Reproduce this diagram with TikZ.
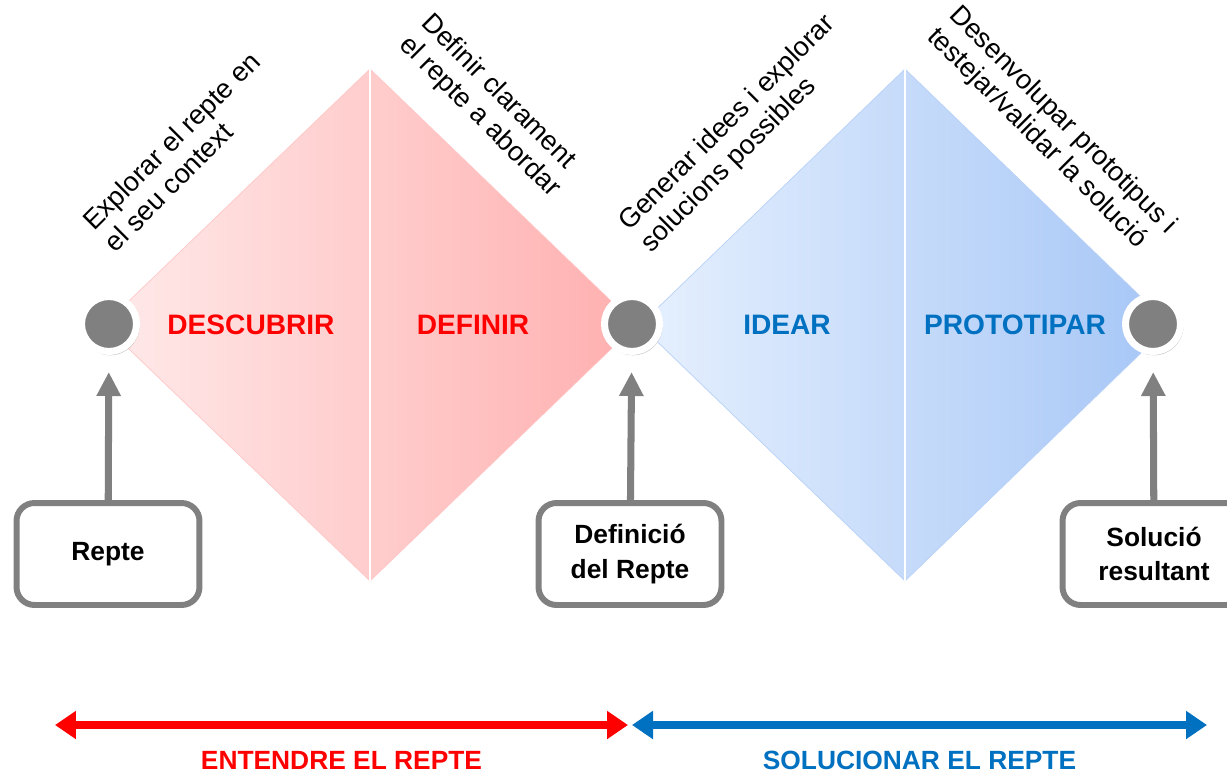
\documentclass[tikz,border=0pt]{standalone}
\usepackage{fontspec}
\setmainfont{Liberation Sans}
\usetikzlibrary{arrows.meta,shadows,positioning}
\definecolor{redA}{HTML}{FF0000}
\definecolor{blueA}{HTML}{0070C0}
\definecolor{grayA}{HTML}{808080}
\definecolor{pinkL}{HTML}{FFEAEA}
\definecolor{pinkR}{HTML}{FFAFAF}
\definecolor{bluL}{HTML}{E6F0FE}
\definecolor{bluR}{HTML}{A6C6F6}
\begin{document}
\begin{tikzpicture}[x=0.02cm,y=-0.02cm,
  dot/.style={circle,draw=white,line width=4pt,fill=grayA,minimum size=1.1cm,inner sep=0pt,
    drop shadow={opacity=.45,shadow xshift=0.6pt,shadow yshift=-1pt,shadow scale=1.07}},
  repbox/.style={draw=grayA,line width=3.4pt,fill=white,rounded corners=0.36cm,
    minimum width=3.66cm,minimum height=2.04cm,align=center,font=\fontsize{15}{19.5}\selectfont\bfseries},
  uparrow/.style={draw=grayA,line width=4pt,-{Triangle[length=0.48cm,width=0.46cm]},shorten >=0.34cm},
  phase/.style={font=\fontsize{16}{19}\selectfont\bfseries},
  note/.style={align=left,inner sep=0pt,font=\fontsize{15.5}{17.5}\selectfont},
  span/.style={line width=4pt,{Triangle[length=0.42cm,width=0.54cm]}-{Triangle[length=0.42cm,width=0.54cm]}},
  stage/.style={font=\fontsize{15}{18}\selectfont\bfseries}]
\useasboundingbox (0,0) rectangle (1227,771);

% diamonds
\shade[left color=pinkL,right color=pinkR,draw=pinkR!70!white] (104,325) -- (370,69) -- (636,325) -- (370,581) -- cycle;
\shade[left color=bluL,right color=bluR,draw=bluR!80!white] (640,325) -- (905,69) -- (1170,325) -- (905,581) -- cycle;
\draw[white,line width=1.6pt] (370,69) -- (370,581);
\draw[white,line width=1.6pt] (905,69) -- (905,581);

\node[phase,redA] at (251,325) {DESCUBRIR};
\node[phase,redA] at (473,325) {DEFINIR};
\node[phase,blueA] at (787,325) {IDEAR};
\node[phase,blueA] at (1015,325) {PROTOTIPAR};

\node[note,rotate=45,anchor=south west] at (116,254) {Explorar el repte en\\el seu context};
\node[note,rotate=-45,anchor=south west] at (394,50) {Definir clarament\\el repte a abordar};
\node[note,rotate=45,anchor=south west] at (655,258) {Generar idees i explorar\\solucions possibles};
\node[note,rotate=-45,anchor=south west] at (922,42) {Desenvolupar prototipus i\\testejar/validar la solució};

% points and inputs
\node[dot] (c1) at (109,324) {};
\node[dot] (c2) at (632,324) {};
\node[dot] (c3) at (1153,324) {};

\node[repbox] (repte) at (108,554) {Repte};
\node[repbox] (definicio) at (630,554) {Definició\\del Repte};
\node[repbox] (solucio) at (1154,554) {Solució\\resultant};

\draw[uparrow] (repte) -- (c1);
\draw[uparrow] (definicio) -- (c2);
\draw[uparrow] (solucio) -- (c3);

% bottom spans
\coordinate (a0) at (55,725);
\coordinate (a1) at (628,725);
\coordinate (a2) at (632,725);
\coordinate (a3) at (1207,725);
\draw[span,redA] (a0) -- (a1) node[stage,midway,below=0.34cm] (entendre) {ENTENDRE EL REPTE};
\draw[span,blueA] (a2) -- (a3) node[stage,midway,below=0.34cm] (solucionar) {SOLUCIONAR EL REPTE};
\end{tikzpicture}
\end{document}
